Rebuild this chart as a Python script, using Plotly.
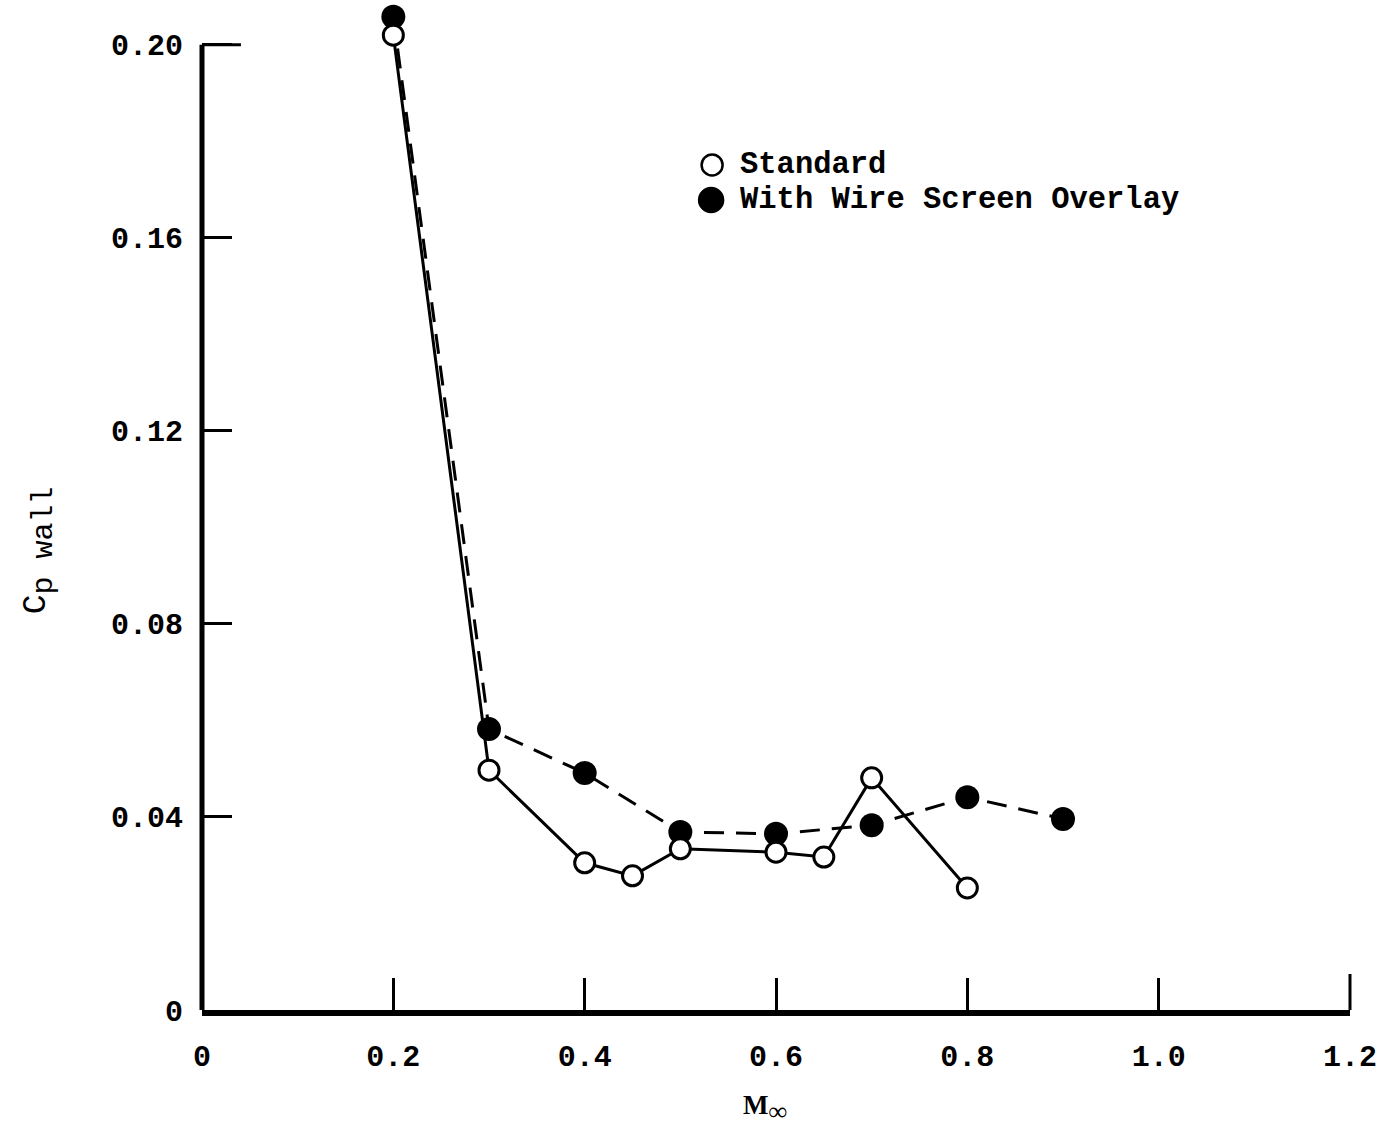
import plotly.graph_objects as go

# Wall pressure coefficient versus free-stream Mach number
mach_standard = [0.2, 0.3, 0.4, 0.45, 0.5, 0.6, 0.65, 0.7, 0.8]
cp_standard = [0.202, 0.0497, 0.0305, 0.0278, 0.0334, 0.0327, 0.0317, 0.0481, 0.0253]

mach_screen = [0.2, 0.3, 0.4, 0.5, 0.6, 0.7, 0.8, 0.9]
cp_screen = [0.2058, 0.0582, 0.0491, 0.0369, 0.0365, 0.0383, 0.0441, 0.0396]

x_ticks = [0, 0.2, 0.4, 0.6, 0.8, 1.0, 1.2]
x_ticktext = ["0", "0.2", "0.4", "0.6", "0.8", "1.0", "1.2"]
y_ticks = [0, 0.04, 0.08, 0.12, 0.16, 0.20]
y_ticktext = ["0", "0.04", "0.08", "0.12", "0.16", "0.20"]

legend_labels = ["Standard", "With Wire Screen Overlay"]

MONO = "Liberation Mono"
W, H = 1388, 1133
ML, MR, MT, MB = 202, 36, 11, 123
PW, PH = W - ML - MR, H - MT - MB
Y_MAX = 0.207


def px_to_paper(px, py):
    return (px - ML) / PW, (H - MB - py) / PH


fig = go.Figure()

fig.add_trace(go.Scatter(
    x=mach_screen, y=cp_screen, mode="lines+markers",
    line=dict(color="black", width=3, dash="20px,12px"),
    marker=dict(symbol="circle", size=24, color="black"),
    cliponaxis=False, showlegend=False,
))
fig.add_trace(go.Scatter(
    x=mach_standard, y=cp_standard, mode="lines+markers",
    line=dict(color="black", width=3),
    marker=dict(symbol="circle", size=20, color="white",
                line=dict(color="black", width=3)),
    cliponaxis=False, showlegend=False,
))

top_y = y_ticks[-1] / Y_MAX
shapes = [
    # left axis, ending at the 0.20 tick
    dict(type="line", xref="paper", yref="paper", x0=0, x1=0, y0=0, y1=top_y,
         line=dict(color="black", width=5)),
    # top tick, a bit longer than the others
    dict(type="line", xref="paper", yref="paper", x0=0, x1=39 / PW,
         y0=top_y, y1=top_y, line=dict(color="black", width=3)),
    # closing tick at the right end of the Mach axis
    dict(type="line", xref="paper", yref="paper", x0=1, x1=1,
         y0=0, y1=36 / PH, line=dict(color="black", width=3)),
]

# legend: markers drawn as shapes, labels as annotations
leg_rows = [(713, 165, False), (712, 200, True)]
annotations = []
for (cx, cy, filled), label in zip(leg_rows, legend_labels):
    ax, ay = px_to_paper(cx, cy)
    r = 12 if filled else 10.5
    shapes.append(dict(
        type="circle", xref="paper", yref="paper",
        xsizemode="pixel", ysizemode="pixel",
        xanchor=ax, yanchor=ay, x0=-r, x1=r, y0=-r, y1=r,
        fillcolor="black" if filled else "white",
        line=dict(color="black", width=2.5),
    ))
    tx, ty = px_to_paper(740, cy)
    annotations.append(dict(
        xref="paper", yref="paper", x=tx, y=ty, xanchor="left", yanchor="middle",
        text=f"<b>{label}</b>", showarrow=False, borderpad=0,
        font=dict(family=MONO, size=30.5, color="black"),
    ))

# y-axis title
yx, yy = px_to_paper(40, 550)
annotations.append(dict(
    xref="paper", yref="paper", x=yx, y=yy, xanchor="center", yanchor="middle",
    textangle=-90, showarrow=False,
    text="C<sub><span style='font-size:30px'>p wall</span></sub>",
    font=dict(family=MONO, size=33, color="black"),
))

# x-axis title
mx, my = px_to_paper(766, 1108)
annotations.append(dict(
    xref="paper", yref="paper", x=mx, y=my, xanchor="center", yanchor="middle",
    showarrow=False,
    text="<b>M<sub><span style='font-size:26px'>∞</span></sub></b>",
    font=dict(family="Liberation Serif", size=27, color="black"),
))

fig.update_layout(
    width=W, height=H,
    margin=dict(l=ML, r=MR, t=MT, b=MB, pad=0),
    paper_bgcolor="white", plot_bgcolor="white",
    shapes=shapes, annotations=annotations,
    showlegend=False,
)
fig.update_xaxes(
    range=[0, 1.2], tickvals=x_ticks, ticktext=x_ticktext,
    showgrid=False, zeroline=False,
    showline=True, linecolor="black", linewidth=6,
    ticks="inside", ticklen=32, tickwidth=3, tickcolor="black",
    ticklabelstandoff=14,
    tickfont=dict(family=MONO, size=30, color="black", weight="bold"),
)
fig.update_yaxes(
    range=[0, Y_MAX], tickvals=y_ticks, ticktext=y_ticktext,
    showgrid=False, zeroline=False, showline=False,
    ticks="inside", ticklen=30, tickwidth=3, tickcolor="black",
    ticklabelstandoff=18,
    tickfont=dict(family=MONO, size=30, color="black", weight="bold"),
)

fig.write_html("out.html")
